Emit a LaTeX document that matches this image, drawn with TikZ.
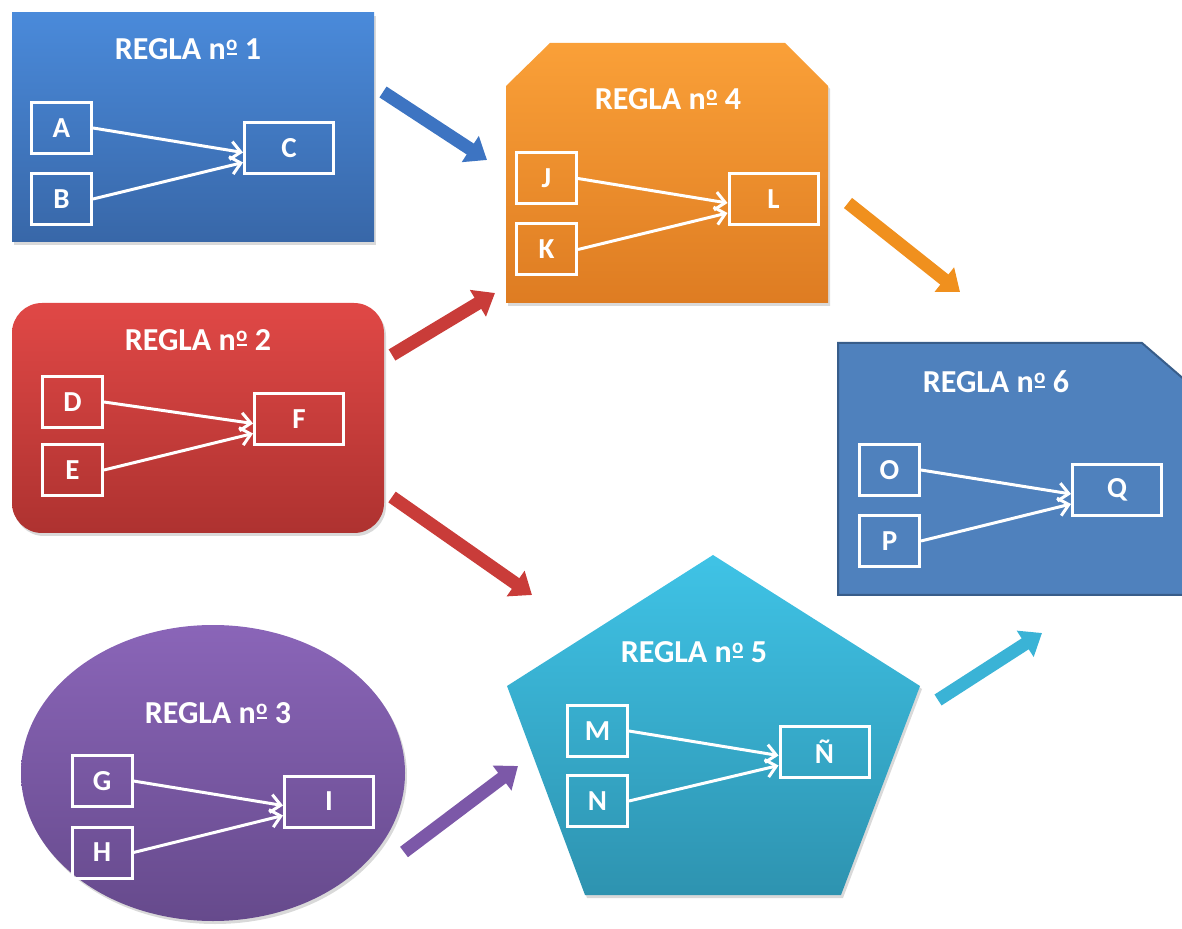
\documentclass[tikz,border=0pt]{standalone}
\usepackage{fontspec}
\setmainfont{Carlito}
\usepackage{tikz}
\usetikzlibrary{arrows.meta}
\usetikzlibrary{shadows}
\usepackage{xcolor}
\definecolor{azulA}{HTML}{4A8ADA}
\definecolor{azulB}{HTML}{3867A8}
\definecolor{narA}{HTML}{FAA038}
\definecolor{narB}{HTML}{DE7C22}
\definecolor{rojoA}{HTML}{E04846}
\definecolor{rojoB}{HTML}{AE3230}
\definecolor{morA}{HTML}{8A65B8}
\definecolor{morB}{HTML}{664A8C}
\definecolor{cianA}{HTML}{3FC3E6}
\definecolor{cianB}{HTML}{2E93B0}
\definecolor{azul6}{HTML}{4F81BD}
\definecolor{borde6}{HTML}{385D8A}
\definecolor{fazul}{HTML}{3D74C2}
\definecolor{fnar}{HTML}{F0901E}
\definecolor{frojo}{HTML}{C93C39}
\definecolor{fmor}{HTML}{7C58A8}
\definecolor{fcian}{HTML}{3AB3D6}
% ordinal with bar under it
\newcommand{\ordm}{\makebox[6pt][c]{\rule[2.3pt]{5.2pt}{0.9pt}\kern-5.2pt\raisebox{4.4pt}{\makebox[5.2pt]{\fontsize{10.5}{10.5}\selectfont o}}}}

\begin{document}
\begin{tikzpicture}[x=0.5pt,y=-0.5pt,
  titulo/.style={text=white,font=\bfseries\fontsize{16}{18}\selectfont},
  caja/.style={draw=white,line width=1.5pt,text=white,inner sep=0pt,
    font=\bfseries\fontsize{14.5}{16}\selectfont,minimum width=30pt,minimum height=25.5pt},
  cajag/.style={caja,minimum width=44.5pt},
  regla/.style={white,line width=1.5pt,-{Straight Barb[length=5pt,width=9pt]}},
  flecha/.style={line width=6.5pt,-{Triangle[length=10pt,width=15pt]}},
  sombra/.style={drop shadow={shadow xshift=1pt,shadow yshift=-1.5pt,opacity=.3}}]
\useasboundingbox (0,0) rectangle (1182,929);
% fondos
\path[sombra,top color=azulA,bottom color=azulB] (12,13) rectangle (374,242);
\path[sombra,top color=narA,bottom color=narB] (506,303) -- (506,86) -- (550,43) -- (785,43) -- (828,86) -- (828,303) -- cycle;
\path[sombra,top color=rojoA,bottom color=rojoB,rounded corners=15pt] (12,303) rectangle (384,533);
\path[sombra,top color=morA,bottom color=morB] (213,773) ellipse [x radius=96pt,y radius=74pt];
\path[sombra,top color=cianA,bottom color=cianB] (713,555) -- (920,686) -- (841,895) -- (585,895) -- (507,686) -- cycle;
\draw[borde6,fill=azul6,line width=1pt] (838,343) -- (1142,343) -- (1186,381) -- (1186,595) -- (838,595) -- cycle;

\node[titulo] (r1) at (188,49) {REGLA n\ordm{} 1};
\node[caja] (A) at (61.5,128) {A};
\node[caja] (B) at (61.5,199) {B};
\node[cajag] (C) at (289,148.5) {C};
\draw[regla] (A.east) -- ([yshift=-2pt]C.west);
\draw[regla] (B.east) -- ([yshift=-7pt]C.west);

\node[titulo] (r2) at (198,340) {REGLA n\ordm{} 2};
\node[caja] (D) at (72.5,402) {D};
\node[caja] (E) at (72.5,470) {E};
\node[cajag] (F) at (299,419.5) {F};
\draw[regla] (D.east) -- ([yshift=-2pt]F.west);
\draw[regla] (E.east) -- ([yshift=-7pt]F.west);

\node[titulo] (r3) at (218,713) {REGLA n\ordm{} 3};
\node[caja] (G) at (102,781) {G};
\node[caja] (H) at (102,852.5) {H};
\node[cajag] (I) at (329,801.5) {I};
\draw[regla] (G.east) -- ([yshift=-2pt]I.west);
\draw[regla] (H.east) -- ([yshift=-7pt]I.west);

\node[titulo] (r4) at (668,99) {REGLA n\ordm{} 4};
\node[caja] (J) at (546.5,178.5) {J};
\node[caja] (K) at (546.5,249.5) {K};
\node[cajag] (L) at (773.5,199) {L};
\draw[regla] (J.east) -- ([yshift=-2pt]L.west);
\draw[regla] (K.east) -- ([yshift=-7pt]L.west);

\node[titulo] (r5) at (694,652) {REGLA n\ordm{} 5};
\node[caja] (M) at (597.5,731) {M};
\node[caja] (N) at (597.5,801) {N};
\node[cajag] (Ny) at (824.5,751.5) {Ñ};
\draw[regla] (M.east) -- ([yshift=-2pt]Ny.west);
\draw[regla] (N.east) -- ([yshift=-7pt]Ny.west);

\node[titulo] (r6) at (996,382) {REGLA n\ordm{} 6};
\node[caja] (O) at (889.5,470) {O};
\node[caja] (P) at (889.5,541) {P};
\node[cajag] (Q) at (1117,490) {Q};
\draw[regla] (O.east) -- ([yshift=-2pt]Q.west);
\draw[regla] (P.east) -- ([yshift=-7pt]Q.west);

% flechas entre reglas
\coordinate (s1) at (383,92);   \coordinate (e1) at (487,160);
\coordinate (s4) at (848,203);  \coordinate (e4) at (960,292);
\coordinate (s2a) at (392,355); \coordinate (e2a) at (495,293);
\coordinate (s2b) at (392,497); \coordinate (e2b) at (532,595);
\coordinate (s3) at (404,852);  \coordinate (e3) at (518,766);
\coordinate (s5) at (938,700);  \coordinate (e5) at (1042,633);
\draw[flecha,fazul] (s1) -- (e1);
\draw[flecha,fnar] (s4) -- (e4);
\draw[flecha,frojo] (s2a) -- (e2a);
\draw[flecha,frojo] (s2b) -- (e2b);
\draw[flecha,fmor] (s3) -- (e3);
\draw[flecha,fcian] (s5) -- (e5);
\end{tikzpicture}
\end{document}
